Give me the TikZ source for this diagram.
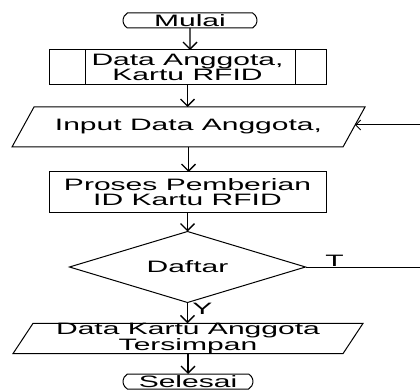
\documentclass[tikz,border=0pt]{standalone}
\usepackage{fontspec}
\setmainfont{Liberation Sans}
\usepackage{graphicx}
\usetikzlibrary{shapes.geometric,shapes.misc,arrows.meta,calc}
\newcommand\wtxt[1]{\scalebox{1.82}[1]{#1}}
\begin{document}
\begin{tikzpicture}[x=1pt,y=-1pt,
  every node/.style={inner sep=0pt,outer sep=0pt,font=\fontsize{16.5}{15.5}\selectfont,align=center},
  tight/.style={font=\fontsize{16.5}{13.5}\selectfont},
  line/.style={line width=1pt},
  arr/.style={line width=1.4pt,-{Straight Barb[length=7pt,width=14pt,line width=1.4pt]}},
  fbarr/.style={line width=1pt,-{Straight Barb[length=5pt,width=10pt]}},
  term/.style={rounded rectangle,rounded rectangle arc length=120,draw,line width=1pt,minimum height=15pt},
  boxn/.style={draw,line width=1pt,rectangle,minimum width=277pt},
  iobox/.style={rectangle},
  decision/.style={diamond,draw,line width=1pt,aspect=3.3,minimum width=236pt,minimum height=71pt},
  lbl/.style={anchor=base}
]
\useasboundingbox (0,0) rectangle (420,390);

\node[term,minimum width=134pt] (mulai) at (190,20.5) {\wtxt{Mulai}};
\node[boxn,tight,minimum height=35pt] (data) at (187.5,67.5) {\wtxt{Data Anggota,}\\\wtxt{Kartu RFID}};
\draw[line] ($(data.north west)+(36,0)$) -- ($(data.south west)+(36,0)$);
\draw[line] ($(data.north east)+(-31,0)$) -- ($(data.south east)+(-31,0)$);

\node[iobox,minimum width=353pt,minimum height=40pt] (input) at (188.5,127) {\wtxt{Input Data Anggota,}};
\draw[line] (input.south west) -- ($(input.north west)+(22,0)$) -- (input.north east) -- ($(input.south east)+(-22,0)$) -- cycle;

\node[boxn,minimum height=40pt] (proses) at (187.5,192) {\wtxt{Proses Pemberian}\\\wtxt{ID Kartu RFID}};

\node[decision] (daftar) at (187.5,267) {\wtxt{Daftar}};

\node[iobox,minimum width=350pt,minimum height=29pt] (simpan) at (188,338.5) {\wtxt{Data Kartu Anggota}\\\wtxt{Tersimpan}};
\draw[line] (simpan.south west) -- ($(simpan.north west)+(20,0)$) -- (simpan.north east) -- ($(simpan.south east)+(-20,0)$) -- cycle;

\node[term,minimum width=130pt] (selesai) at (188,381.5) {\wtxt{Selesai}};

\node[lbl] (tlab) at (334.5,266.5) {\wtxt{T}};
\node[lbl] (ylab) at (202.5,314) {\wtxt{Y}};

\coordinate (c1) at (421,267);
\coordinate (c2) at (421,125);
\coordinate (fb) at (355,125);

\draw[arr] (mulai) -- (mulai |- data.north);
\draw[arr] (data) -- (data |- input.north);
\draw[arr] (input) -- (input |- proses.north);
\draw[arr] (proses) -- (proses |- daftar.north);
\draw[arr] (daftar.south) -- (daftar.south |- simpan.north);
\draw[arr] (simpan) -- (simpan |- selesai.north);
\draw[fbarr] (daftar.east) -- (c1) -- (c2) -- (fb);
\end{tikzpicture}
\end{document}
